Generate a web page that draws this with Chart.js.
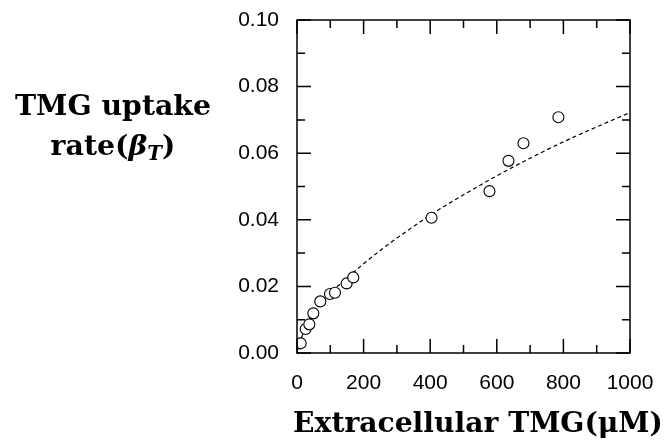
<!DOCTYPE html>
<html>
<head>
<meta charset="utf-8">
<script src="https://cdn.jsdelivr.net/npm/chart.js@4.4.1/dist/chart.umd.min.js"></script>
<style>
	html, body { margin: 0; padding: 0; background: #fff; }
	#wrap { width: 666px; height: 444px; }
</style>
</head>
<body>
<div id="wrap"><canvas id="chart" width="666" height="444"></canvas></div>
<script>
// measured TMG uptake (open circles)
var uptakeX = [11, 26, 37, 49, 70, 99, 114, 149, 169, 404, 578, 635, 680, 785];
var uptakeY = [0.0029, 0.0072, 0.0086, 0.0119, 0.0155, 0.0177, 0.0181, 0.0209, 0.0227, 0.0406, 0.0486, 0.0577, 0.0630, 0.0708];

// dashed fit curve
var fitX = [0, 10, 25, 50, 75, 100, 150, 200, 250, 300, 400, 500, 600, 700, 800, 900, 1000];
var fitY = [0.0005, 0.0035, 0.0075, 0.0122, 0.0153, 0.0180, 0.0225, 0.0268, 0.0308, 0.0345, 0.0414, 0.0475, 0.0532, 0.0585, 0.0634, 0.0679, 0.0722];

var xMajor = [0, 200, 400, 600, 800, 1000];
var xMinor = [100, 300, 500, 700, 900];
var yMajor = [0, 0.02, 0.04, 0.06, 0.08, 0.10];
var yMinor = [0.01, 0.03, 0.05, 0.07, 0.09];

var xTitle = 'Extracellular TMG(\u03bcM)';
var yTitle1 = 'TMG uptake';
var yTitle2 = ['rate(', '\u03b2', 'T', ')'];

function pairs(xs, ys) {
	return xs.map(function (x, i) { return { x: x, y: ys[i] }; });
}

function fitSize(ctx, text, style, width) {
	ctx.font = style + ' 100px "DejaVu Serif"';
	return 100 * width / ctx.measureText(text).width;
}

var framePlugin = {
	id: 'frame',
	afterDraw: function (chart) {
		var ctx = chart.ctx;
		var a = chart.chartArea;
		var sx = chart.scales.x;
		var sy = chart.scales.y;
		ctx.save();
		ctx.strokeStyle = '#000';
		ctx.lineWidth = 1.5;
		ctx.strokeRect(a.left, a.top, a.right - a.left, a.bottom - a.top);

		function xTick(v, len) {
			var px = sx.getPixelForValue(v);
			ctx.beginPath();
			ctx.moveTo(px, a.bottom); ctx.lineTo(px, a.bottom - len);
			ctx.moveTo(px, a.top); ctx.lineTo(px, a.top + len);
			ctx.stroke();
		}
		function yTick(v, len) {
			var py = sy.getPixelForValue(v);
			ctx.beginPath();
			ctx.moveTo(a.left, py); ctx.lineTo(a.left + len, py);
			ctx.moveTo(a.right, py); ctx.lineTo(a.right - len, py);
			ctx.stroke();
		}
		xMajor.forEach(function (v) { xTick(v, 14); });
		xMinor.forEach(function (v) { xTick(v, 8); });
		yMajor.forEach(function (v) { yTick(v, 14); });
		yMinor.forEach(function (v) { yTick(v, 8); });

		// axis titles
		ctx.fillStyle = '#000';
		ctx.textBaseline = 'alphabetic';
		ctx.textAlign = 'center';
		var s = fitSize(ctx, xTitle, 'bold', 370);
		ctx.font = 'bold ' + s + 'px "DejaVu Serif"';
		ctx.fillText(xTitle, 478, 432);

		var s1 = fitSize(ctx, yTitle1, 'bold', 196);
		ctx.font = 'bold ' + s1 + 'px "DejaVu Serif"';
		ctx.fillText(yTitle1, 113, 115);

		// rate(β_T)
		var fB = 'bold ' + s1 + 'px "DejaVu Serif"';
		var fI = 'italic bold ' + s1 + 'px "DejaVu Serif"';
		var fS = 'italic bold ' + (s1 * 0.7) + 'px "DejaVu Serif"';
		var fonts = [fB, fI, fS, fB];
		var widths = yTitle2.map(function (t, i) { ctx.font = fonts[i]; return ctx.measureText(t).width; });
		var total = widths.reduce(function (p, w) { return p + w; }, 0);
		var x = 113 - total / 2;
		ctx.textAlign = 'left';
		yTitle2.forEach(function (t, i) {
			ctx.font = fonts[i];
			ctx.fillText(t, x, i === 2 ? 160 : 155);
			x += widths[i];
		});
		ctx.restore();
	}
};

var tickFont = { family: '"Liberation Sans", Arial, sans-serif', size: 21 };

new Chart(document.getElementById('chart'), {
	type: 'scatter',
	data: {
		datasets: [{
			label: 'data',
			data: pairs(uptakeX, uptakeY),
			pointRadius: 5.5,
			pointHoverRadius: 5.5,
			borderColor: '#000',
			backgroundColor: '#fff',
			borderWidth: 1.1,
		}, {
			label: 'fit',
			data: pairs(fitX, fitY),
			showLine: true,
			pointRadius: 0,
			borderColor: '#000',
			borderWidth: 1.2,
			borderDash: [4, 3],
			cubicInterpolationMode: 'monotone',
			fill: false,
		}],
	},
	options: {
		responsive: false,
		animation: false,
		devicePixelRatio: 1,
		layout: { padding: { top: 20, right: 36, left: 0, bottom: 0 } },
		plugins: {
			legend: { display: false },
			tooltip: { enabled: false },
		},
		scales: {
			x: {
				type: 'linear',
				min: 0,
				max: 1000,
				grid: { display: false, drawTicks: false },
				border: { display: false },
				ticks: {
					stepSize: 200,
					font: tickFont,
					color: '#000',
					padding: 18,
					maxRotation: 0,
					callback: function (v) { return String(v); },
				},
				afterFit: function (s) {
					s.height = 91;
					s.paddingLeft = 0;
					s.paddingRight = 0;
				},
			},
			y: {
				min: 0,
				max: 0.1,
				grid: { display: false, drawTicks: false },
				border: { display: false },
				ticks: {
					stepSize: 0.02,
					font: tickFont,
					color: '#000',
					padding: 18,
					callback: function (v) { return v.toFixed(2); },
				},
				afterFit: function (s) {
					s.width = 297;
					s.paddingTop = 0;
					s.paddingBottom = 0;
				},
			},
		},
	},
	plugins: [framePlugin],
});
</script>
</body>
</html>
